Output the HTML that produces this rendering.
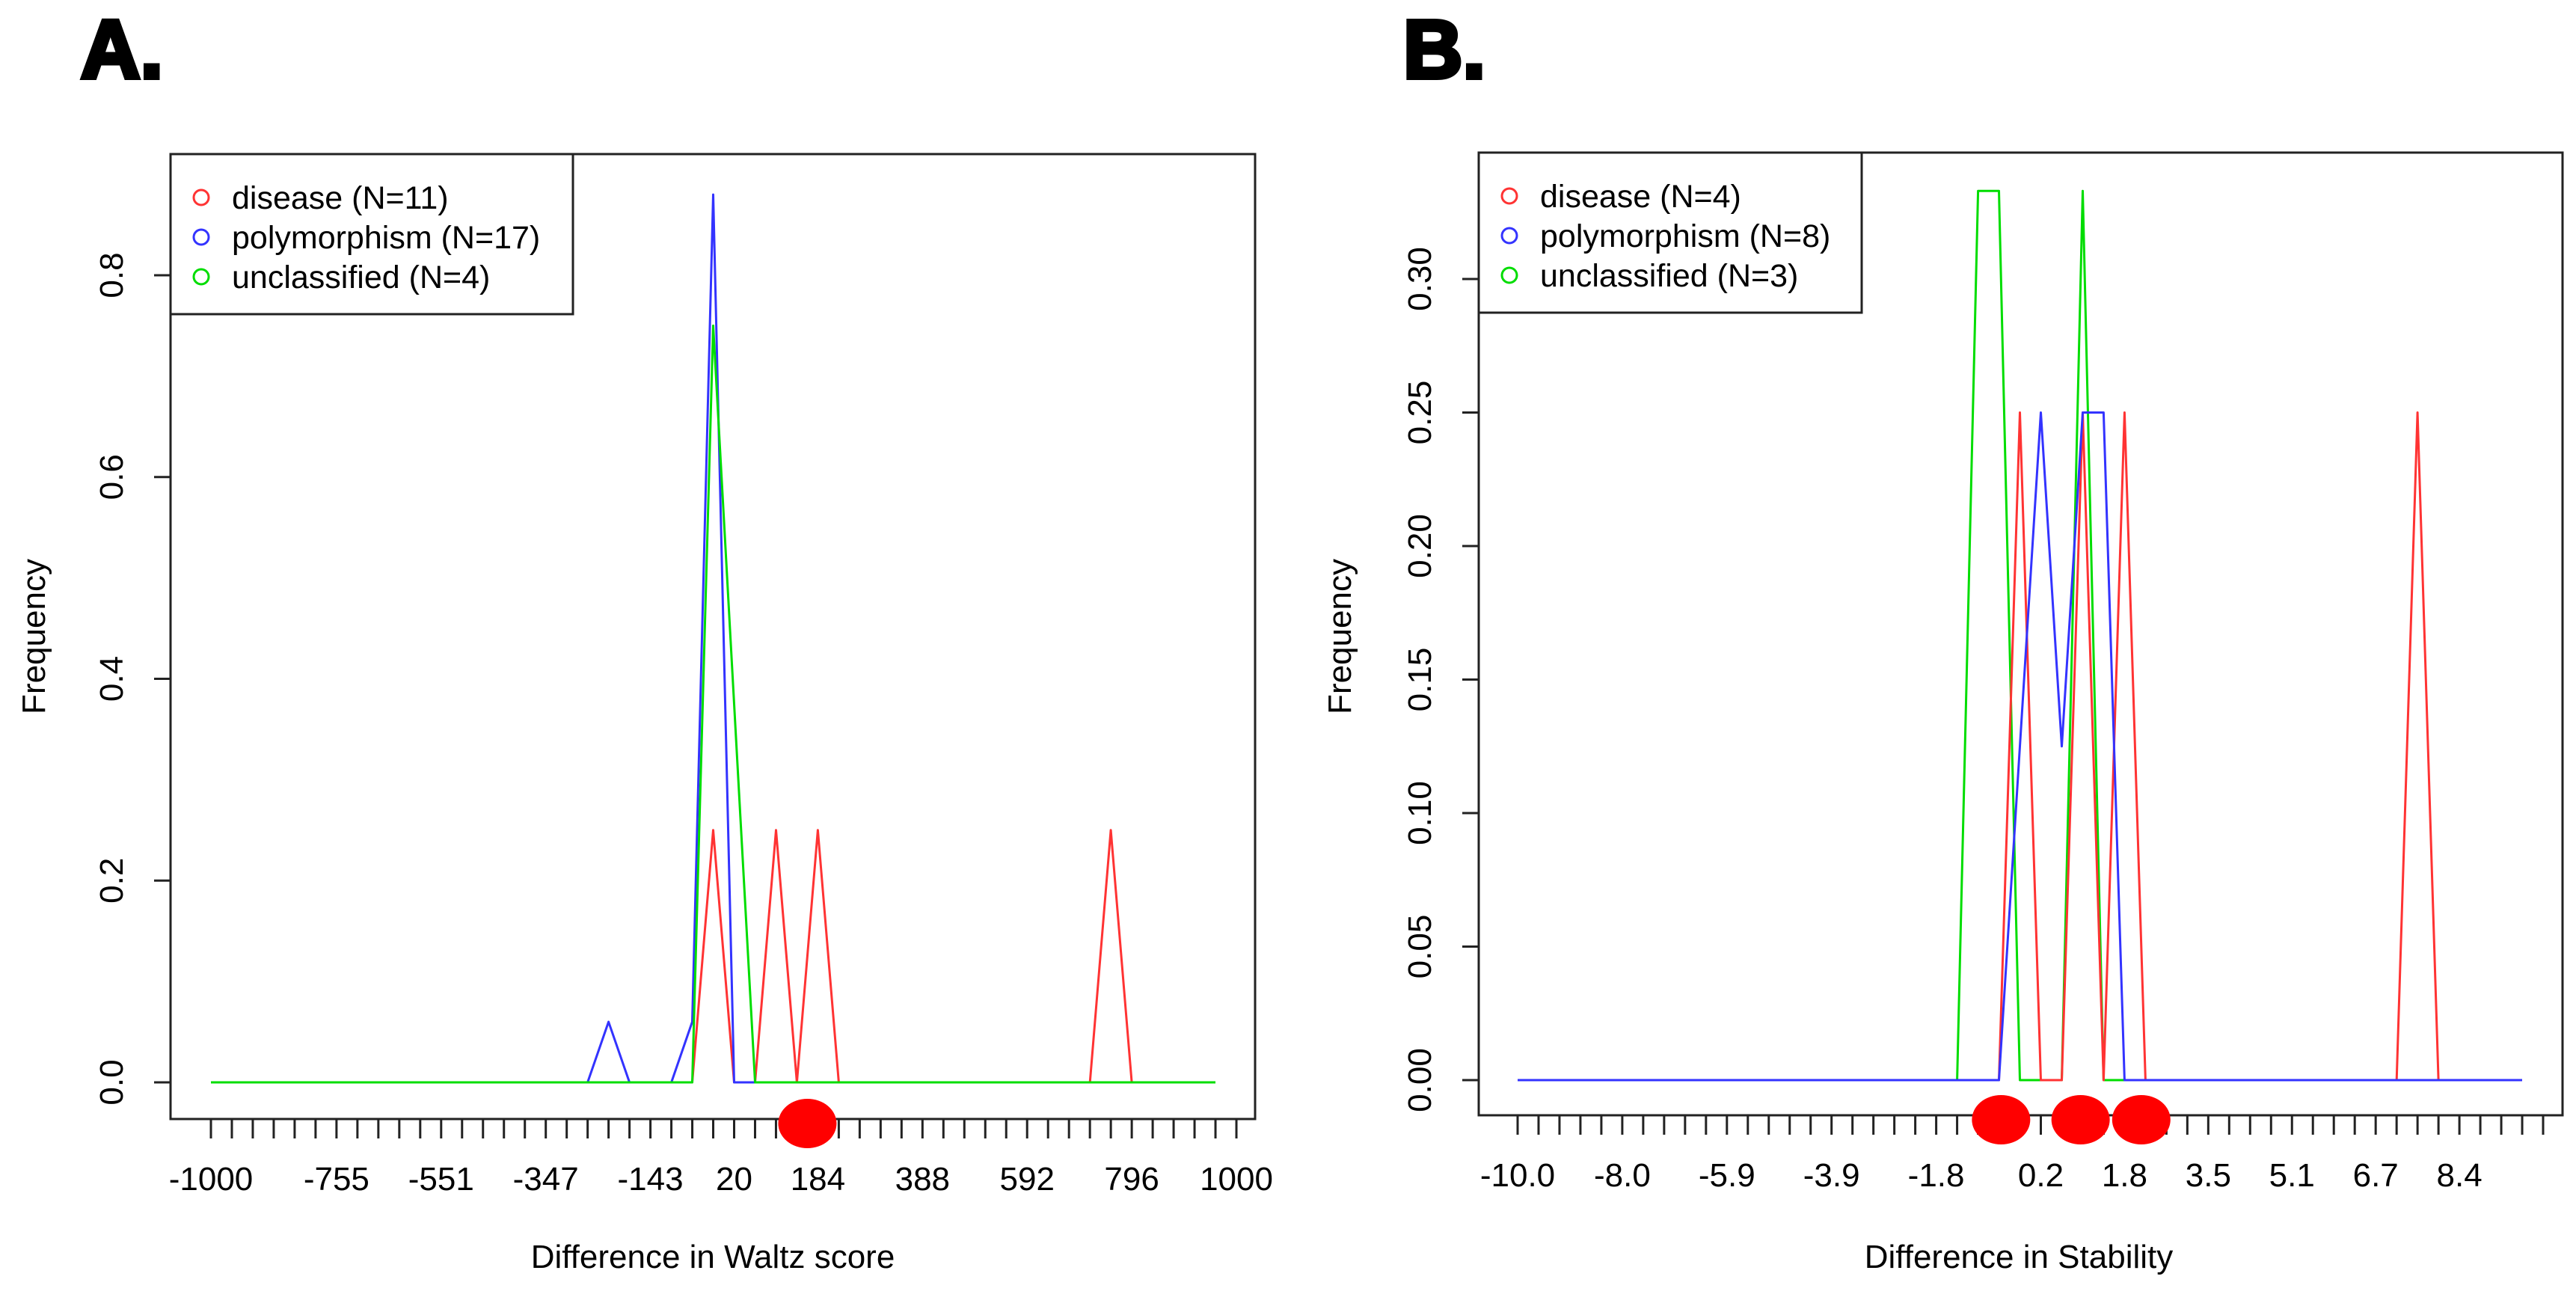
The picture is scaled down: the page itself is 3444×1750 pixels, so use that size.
<!DOCTYPE html>
<html><head><meta charset="utf-8"><style>
html,body{margin:0;padding:0;background:#fff}
svg{display:block}
text{font-family:"Liberation Sans",sans-serif;fill:#000}
</style></head><body>
<svg id="s" width="3444" height="1750" viewBox="0 0 3444 1750">
<text x="108" y="104" font-size="110" font-weight="900" stroke="#000" stroke-width="6">A.</text>
<text x="1876" y="104" font-size="110" font-weight="900" stroke="#000" stroke-width="6">B.</text>
</svg>
<script>
// Panel A data
const aSeriesRed   = [0,0,0,0,0,0,0,0,0,0,0,0,0,0,0,0,0,0,0,0,0,0,0,0,0.25,0,0,0.25,0,0.25,0,0,0,0,0,0,0,0,0,0,0,0,0,0.25,0,0,0,0,0];
const aSeriesBlue  = [0,0,0,0,0,0,0,0,0,0,0,0,0,0,0,0,0,0,0,0.06,0,0,0,0.06,0.88,0,0,0,0,0,0,0,0,0,0,0,0,0,0,0,0,0,0,0,0,0,0,0,0];
const aSeriesGreen = [0,0,0,0,0,0,0,0,0,0,0,0,0,0,0,0,0,0,0,0,0,0,0,0,0.75,0.375,0,0,0,0,0,0,0,0,0,0,0,0,0,0,0,0,0,0,0,0,0,0,0];
const aTickLabels = ["-1000","-755","-551","-347","-143","20","184","388","592","796","1000"];
const aTickIdx = [0,6,11,16,21,25,29,34,39,44,49];
const aYTicks = [0,0.2,0.4,0.6,0.8];
const aDots = [28.5];
const aLegend = ["disease (N=11)","polymorphism (N=17)","unclassified (N=4)"];
// Panel B data
const bSeriesRed   = [0,0,0,0,0,0,0,0,0,0,0,0,0,0,0,0,0,0,0,0,0,0,0,0,0.25,0,0,0.25,0,0.25,0,0,0,0,0,0,0,0,0,0,0,0,0,0.25,0,0,0,0,0];
const bSeriesBlue  = [0,0,0,0,0,0,0,0,0,0,0,0,0,0,0,0,0,0,0,0,0,0,0,0,0.125,0.25,0.125,0.25,0.25,0,0,0,0,0,0,0,0,0,0,0,0,0,0,0,0,0,0,0,0];
const bSeriesGreen = [0,0,0,0,0,0,0,0,0,0,0,0,0,0,0,0,0,0,0,0,0,0,0.333,0.333,0,0,0,0.333,0,0,0,0,0,0,0,0,0,0,0,0,0,0,0,0,0,0,0,0,0];
const bTickLabels = ["-10.0","-8.0","-5.9","-3.9","-1.8","0.2","1.8","3.5","5.1","6.7","8.4"];
const bTickIdx = [0,5,10,15,20,25,29,33,37,41,45];
const bYTicks = [0,0.05,0.10,0.15,0.20,0.25,0.30];
const bYLabels = ["0.00","0.05","0.10","0.15","0.20","0.25","0.30"];
const bDots = [23.1,26.9,29.8];
const bLegend = ["disease (N=4)","polymorphism (N=8)","unclassified (N=3)"];

const NS="http://www.w3.org/2000/svg";
const svg=document.getElementById('s');
function mk(tag,attrs,parent){const e=document.createElementNS(NS,tag);for(const k in attrs)e.setAttribute(k,attrs[k]);(parent||svg).appendChild(e);return e;}

function panel(P){
  const g=mk('g',{});
  
  
  const ix=i=>P.x0+i*27.98;
  const iy=v=>P.y0-v*P.yscale;
  const box=mk('rect',{x:P.bl,y:P.bt,width:P.br-P.bl,height:P.bb-P.bt,fill:'none',stroke:'#222','stroke-width':3},g);
  
  
  // series
  P.series.forEach(s=>{
    const pts=s.data.map((v,i)=>ix(i).toFixed(1)+','+iy(v).toFixed(1)).join(' ');
    const pl=mk('polyline',{points:pts,fill:'none',stroke:s.color,'stroke-width':3,'stroke-linejoin':'round'},g);
    
    
  });
  // x ticks
  for(let i=0;i<50;i++){
    const t=mk('line',{x1:ix(i),x2:ix(i),y1:P.bb,y2:P.bb+26,stroke:'#222','stroke-width':3},g);
    
    
  }
  P.tickIdx.forEach((ti,k)=>{
    const t=mk('text',{x:ix(ti),y:P.bb+95,'font-size':44,'text-anchor':'middle'},g);
    t.textContent=P.tickLabels[k];
    
    
  });
  // y ticks
  P.yTicks.forEach((v,k)=>{
    const t=mk('line',{x1:P.bl-22,x2:P.bl,y1:iy(v),y2:iy(v),stroke:'#222','stroke-width':3},g);
    
    
    const tx=mk('text',{x:0,y:0,'font-size':44,'text-anchor':'middle',transform:`translate(${P.bl-64},${iy(v)}) rotate(-90)`},g);
    tx.textContent=P.yLabels[k];
    
    
  });
  // dots
  P.dots.forEach(d=>{
    const e=mk('ellipse',{cx:ix(d),cy:P.bb+6,rx:39,ry:33,fill:'#f00'},g);
    
    
  });
  // legend
  const lg=mk('g',{},g);
  
  
  mk('rect',{x:P.bl,y:P.bt,width:P.lw,height:214,fill:'#fff',stroke:'#222','stroke-width':3},lg);
  const cols=['#f33','#33f','#0d0'];
  P.legend.forEach((L,k)=>{
    const y=P.bt+58+k*53;
    const c=mk('circle',{cx:P.bl+41,cy:y,r:10,fill:'none',stroke:cols[k],'stroke-width':3},lg);
    
    
    const t=mk('text',{x:P.bl+82,y:y+15,'font-size':43},lg);
    t.textContent=L;
    
    
  });
  const xt=mk('text',{x:P.xtx,y:1695,'font-size':44,'text-anchor':'middle'},g);
  xt.textContent=P.xtitle;
  
  
  const yt=mk('text',{x:0,y:0,'font-size':44,'text-anchor':'middle',transform:`translate(${P.ytx},851) rotate(-90)`},g);
  yt.textContent='Frequency';
  
  
}

panel({name:'panel-a-chart',x0:282,y0:1447,yscale:1348.75,bl:228,br:1678,bt:206,bb:1496,lw:538,
  series:[{name:'disease-line',color:'#f33',data:aSeriesRed},{name:'polymorphism-line',color:'#33f',data:aSeriesBlue},{name:'unclassified-line',color:'#0d0',data:aSeriesGreen}],
  tickLabels:aTickLabels,tickIdx:aTickIdx,yTicks:aYTicks,yLabels:aYTicks.map(v=>v.toFixed(1)),dots:aDots,legend:aLegend,
  xtitle:'Difference in Waltz score',xtx:953,ytx:60});
panel({name:'panel-b-chart',x0:2029,y0:1444,yscale:3570,bl:1977,br:3426,bt:204,bb:1491,lw:512,
  series:[{name:'unclassified-line',color:'#0d0',data:bSeriesGreen},{name:'disease-line',color:'#f33',data:bSeriesRed},{name:'polymorphism-line',color:'#33f',data:bSeriesBlue}],
  tickLabels:bTickLabels,tickIdx:bTickIdx,yTicks:bYTicks,yLabels:bYLabels,dots:bDots,legend:bLegend,
  xtitle:'Difference in Stability',xtx:2699,ytx:1806});
</script>
</body></html>
